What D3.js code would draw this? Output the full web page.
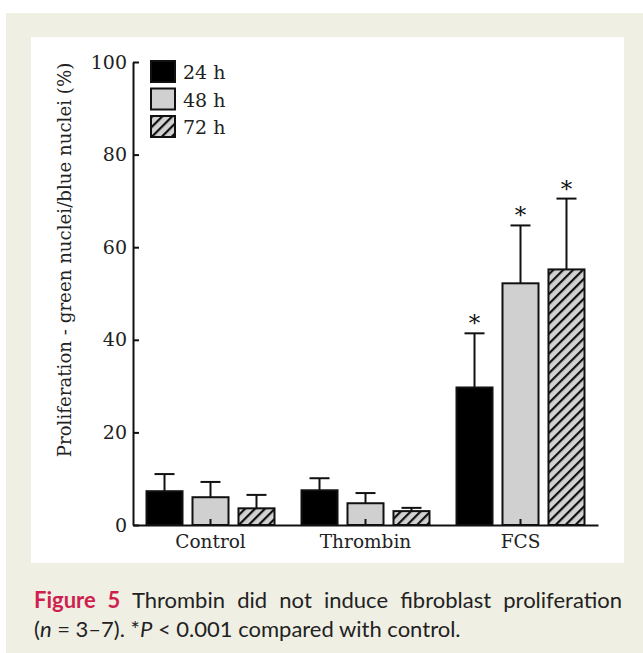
<!DOCTYPE html>
<html>
<head>
<meta charset="utf-8">
<script src="https://cdn.jsdelivr.net/npm/d3@7"></script>
<style>
  html, body { margin: 0; padding: 0; background: #fff; }
  svg { display: block; }
</style>
</head>
<body>
<svg id="chart" width="643" height="653"></svg>
<script>
// ===================== DATA =====================
const groups = ["Control", "Thrombin", "FCS"];
const seriesNames = ["24 h", "48 h", "72 h"];
const means24 = [7.3, 7.5, 29.7];
const means48 = [6.0, 4.7, 52.2];
const means72 = [3.6, 3.0, 55.2];
const sem24 = [3.7, 2.6, 11.7];
const sem48 = [3.3, 2.2, 12.5];
const sem72 = [2.9, 0.7, 15.3];
const signif = [false, false, true]; // * vs control
const yTicks = [0, 20, 40, 60, 80, 100];

const W = 643, H = 653;
const serif = "'DejaVu Serif', serif";
const sans = "Lato, 'Open Sans', sans-serif";

const svg = d3.select("#chart");

// fundo bege + caixa branca
svg.append("rect").attr("x", 0).attr("y", 0).attr("width", W).attr("height", H).attr("fill", "#fff");
svg.append("rect").attr("x", 6).attr("y", 13).attr("width", W - 6).attr("height", H - 13).attr("fill", "#efefe4");
svg.append("rect").attr("x", 31).attr("y", 37).attr("width", 593).attr("height", 526).attr("fill", "#fff");

// hatch pattern
const defs = svg.append("defs");
const pat = defs.append("pattern")
  .attr("id", "hatch")
  .attr("patternUnits", "userSpaceOnUse")
  .attr("width", 7).attr("height", 7)
  .attr("patternTransform", "rotate(45)");
pat.append("rect").attr("width", 7).attr("height", 7).attr("fill", "#d2d2d2");
pat.append("line").attr("x1", 0).attr("y1", 0).attr("x2", 0).attr("y2", 7)
  .attr("stroke", "#111").attr("stroke-width", 4.4);

const fills = ["#000", "#d0d0d0", "url(#hatch)"];

// ===================== SCALES =====================
const x0 = d3.scaleBand().domain(groups).range([133, 598]);
const x1 = d3.scaleBand().domain(seriesNames)
  .range([13.5, x0.bandwidth() - 13.5])
  .paddingInner(0.217);
const y = d3.scaleLinear().domain([0, 100]).range([525, 62]);

const data = [];
groups.forEach((g, i) => {
  [means24, means48, means72].forEach((m, j) => {
    const e = [sem24, sem48, sem72][j];
    data.push({ group: g, s: seriesNames[j], idx: j, mean: m[i], err: e[i], sig: signif[i] });
  });
});

// ===================== BARS =====================
const barG = svg.append("g");
barG.selectAll("rect")
  .data(data)
  .join("rect")
  .attr("x", d => x0(d.group) + x1(d.s))
  .attr("y", d => y(d.mean))
  .attr("width", x1.bandwidth())
  .attr("height", d => y(0) - y(d.mean))
  .attr("fill", d => fills[d.idx])
  .attr("stroke", "#111")
  .attr("stroke-width", 2);

// barras de erro (só para cima)
const errG = svg.append("g").attr("stroke", "#111").attr("stroke-width", 2);
data.forEach(d => {
  const cx = x0(d.group) + x1(d.s) + x1.bandwidth() / 2;
  errG.append("line").attr("x1", cx).attr("x2", cx)
    .attr("y1", y(d.mean)).attr("y2", y(d.mean + d.err));
  errG.append("line").attr("x1", cx - 10).attr("x2", cx + 10)
    .attr("y1", y(d.mean + d.err)).attr("y2", y(d.mean + d.err));
  if (d.sig) {
    svg.append("text")
      .attr("x", cx).attr("y", y(d.mean + d.err) - 2)
      .attr("text-anchor", "middle")
      .attr("font-family", serif).attr("font-size", 23)
      .attr("fill", "#111")
      .text("*");
  }
});

// ===================== AXES =====================
const yAxis = svg.append("g")
  .attr("transform", "translate(133,0)")
  .call(d3.axisLeft(y).tickValues(yTicks).tickSizeInner(-6).tickSizeOuter(0).tickPadding(6));
const xAxis = svg.append("g")
  .attr("transform", "translate(0,525)")
  .call(d3.axisBottom(x0).tickSizeInner(-6).tickSizeOuter(0).tickPadding(10));

[yAxis, xAxis].forEach(ax => {
  ax.selectAll("path, line").attr("stroke", "#111").attr("stroke-width", 2);
  ax.selectAll("text").attr("font-family", serif).attr("font-size", 19).attr("fill", "#222");
});
xAxis.selectAll("text").attr("font-size", 18.5);

// título do eixo Y
svg.append("text")
  .attr("transform", "translate(71,260) rotate(-90)")
  .attr("text-anchor", "middle")
  .attr("font-family", serif).attr("font-size", 18.2)
  .attr("fill", "#222")
  .text("Proliferation - green nuclei/blue nuclei (%)");

// ===================== LEGENDA =====================
const leg = svg.append("g");
seriesNames.forEach((s, j) => {
  const yy = 61 + j * 27.5;
  leg.append("rect").attr("x", 151).attr("y", yy).attr("width", 24).attr("height", 21)
    .attr("fill", fills[j]).attr("stroke", "#111").attr("stroke-width", 2);
  leg.append("text").attr("x", 183).attr("y", yy + 18)
    .attr("font-family", serif).attr("font-size", 19).attr("fill", "#222")
    .text(s);
});

// ===================== LEGENDA DA FIGURA =====================
const cap1 = svg.append("text")
  .attr("x", 34).attr("y", 608)
  .attr("font-family", sans).attr("font-size", 22).attr("fill", "#222");
cap1.append("tspan").attr("font-weight", "bold").attr("fill", "#cf1f4f").text("Figure 5");
cap1.append("tspan").text(" Thrombin did not induce fibroblast proliferation");
// justificar a primeira linha
const len1 = cap1.node().getComputedTextLength();
const nSpaces = 7;
cap1.attr("word-spacing", Math.max(0, (588 - len1) / nSpaces));

const cap2 = svg.append("text")
  .attr("x", 34).attr("y", 637)
  .attr("font-family", sans).attr("font-size", 22).attr("fill", "#222");
cap2.append("tspan").text("(");
cap2.append("tspan").attr("font-style", "italic").text("n");
cap2.append("tspan").text(" = 3–7). *");
cap2.append("tspan").attr("font-style", "italic").text("P");
cap2.append("tspan").text(" < 0.001 compared with control.");
</script>
</body>
</html>
